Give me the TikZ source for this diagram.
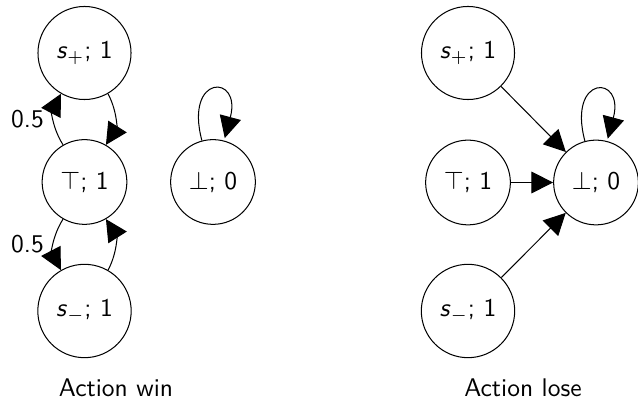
\documentclass[tikz,border=0pt]{standalone}
\usetikzlibrary{arrows.meta}
\begin{document}
\begin{tikzpicture}[x=0.392pt,y=0.392pt,
  font=\sffamily,
  stnode/.style={circle,draw,inner sep=4.7pt},
  >={Triangle[length=8.5pt,width=8.5pt]},
  lbl/.style={left,inner sep=4pt}]
\useasboundingbox (0,0) rectangle (638,-400);

% Action win
\node[stnode] (ap) at (84.5,-53)  {\textit{s}$_{+}$; 1};
\node[stnode] (at) at (84.5,-182) {$\top$; 1};
\node[stnode] (ab) at (213,-182)  {$\bot$; 0};
\node[stnode] (am) at (84.5,-311) {\textit{s}$_{-}$; 1};

\draw[->] (ap) to[bend left=30] (at);
\draw[->] (at) to[bend left=30] node[lbl] {0.5} (ap);
\draw[->] (at) to[bend right=30] node[lbl] {0.5} (am);
\draw[->] (am) to[bend right=30] (at);
\path[->] (ab) edge[loop above] (ab);

\node[anchor=base] (capa) at (116,-397) {Action win};

% Action lose
\node[stnode] (bp) at (468,-53)  {\textit{s}$_{+}$; 1};
\node[stnode] (bt) at (468,-182.5) {$\top$; 1};
\node[stnode] (bb) at (596,-182.5) {$\bot$; 0};
\node[stnode] (bm) at (468,-311) {\textit{s}$_{-}$; 1};

\draw[->] (bp) -- (bb);
\draw[->] (bt) -- (bb);
\draw[->] (bm) -- (bb);
\path[->] (bb) edge[loop above] (bb);

\node[anchor=base] (capb) at (523,-397) {Action lose};
\end{tikzpicture}
\end{document}
